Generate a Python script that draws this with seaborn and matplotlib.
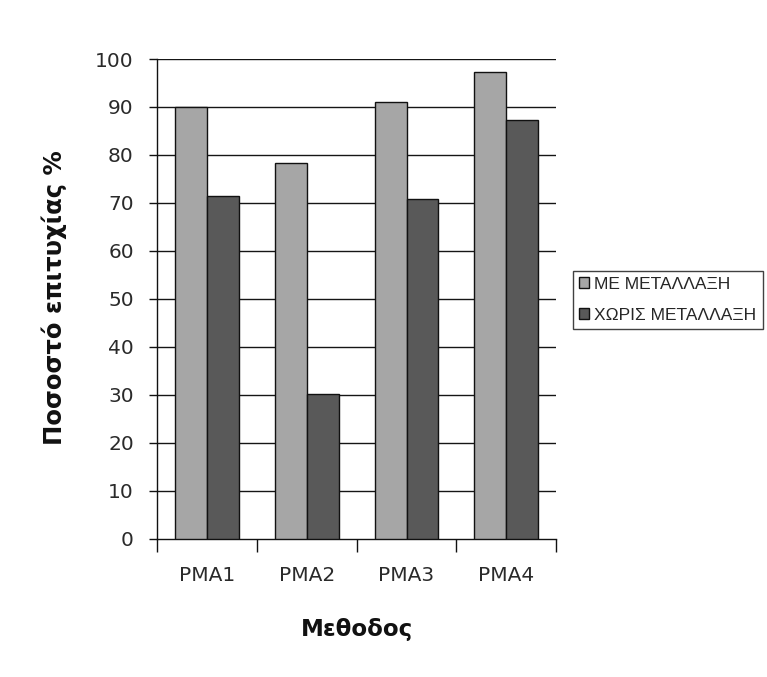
import matplotlib
matplotlib.use("Agg")
import matplotlib.pyplot as plt
import seaborn as sns
import pandas as pd

methods = ["PMA1", "PMA2", "PMA3", "PMA4"]
series_names = ["ΜΕ ΜΕΤΑΛΛΑΞΗ", "ΧΩΡΙΣ ΜΕΤΑΛΛΑΞΗ"]
with_mutation = [90.0, 78.4, 91.1, 97.3]
without_mutation = [71.5, 30.1, 70.8, 87.3]
y_ticks = [0, 10, 20, 30, 40, 50, 60, 70, 80, 90, 100]

df = pd.DataFrame({
    "method": methods * 2,
    "series": [series_names[0]] * len(methods) + [series_names[1]] * len(methods),
    "value": with_mutation + without_mutation,
})

sns.set_theme(style="white")
plt.rcParams["font.family"] = ["DejaVu Sans"]

fig = plt.figure(figsize=(7.67, 6.77), dpi=100)
ax = fig.add_axes([0.2053, 0.2043, 0.5196, 0.7085])

sns.barplot(
    data=df, x="method", y="value", hue="series",
    order=methods, hue_order=series_names,
    palette=["#a6a6a6", "#595959"],
    width=0.64, edgecolor="#111111", linewidth=1.0,
    errorbar=None, ax=ax, zorder=3,
)

ax.set_ylim(0, 100)
ax.set_xlim(-0.5, len(methods) - 0.5)
ax.set_yticks(y_ticks)
ax.set_yticklabels([str(t) for t in y_ticks], fontsize=14.5, color="#2a2a2a")
for t in y_ticks[1:]:
    ax.axhline(t, color="#151515", linewidth=1.0, zorder=1)

# category boundaries carry the tick marks, labels sit at the centres
ax.set_xticks([i - 0.5 for i in range(len(methods) + 1)])
ax.set_xticklabels([])
ax.set_xticks(range(len(methods)), minor=True)
ax.set_xticklabels(methods, minor=True, fontsize=14.5, color="#2a2a2a")
ax.tick_params(axis="x", which="major", direction="out", length=9, width=1, color="#111111", bottom=True)
ax.tick_params(axis="x", which="minor", length=0, pad=20)
ax.tick_params(axis="y", direction="out", length=6, width=1, color="#111111", left=True, pad=11)

for side in ["top", "right"]:
    ax.spines[side].set_visible(False)
for side in ["left", "bottom"]:
    ax.spines[side].set_color("#111111")
    ax.spines[side].set_linewidth(1.0)

ax.set_xlabel("Μεθοδος", fontsize=16.5, fontweight="bold", color="#111111")
ax.set_ylabel("Ποσοστό επιτυχίας %", fontsize=17.5, fontweight="bold", color="#111111")
ax.xaxis.set_label_coords(0.5, -0.165)
ax.yaxis.set_label_coords(-0.227, 0.503)

handles, labels = ax.get_legend_handles_labels()
leg = ax.legend(
    handles, labels, loc="center left", bbox_to_anchor=(1.042, 0.498),
    frameon=True, fancybox=False, edgecolor="#111111",
    handlelength=0.6, handleheight=0.6, handletextpad=0.3,
    borderpad=0.35, labelspacing=0.9, borderaxespad=0,
    prop={"family": ["Liberation Sans", "DejaVu Sans"], "size": 12.5},
)
leg.get_frame().set_linewidth(1.0)

fig.savefig("out.png", dpi=100, facecolor="white")
